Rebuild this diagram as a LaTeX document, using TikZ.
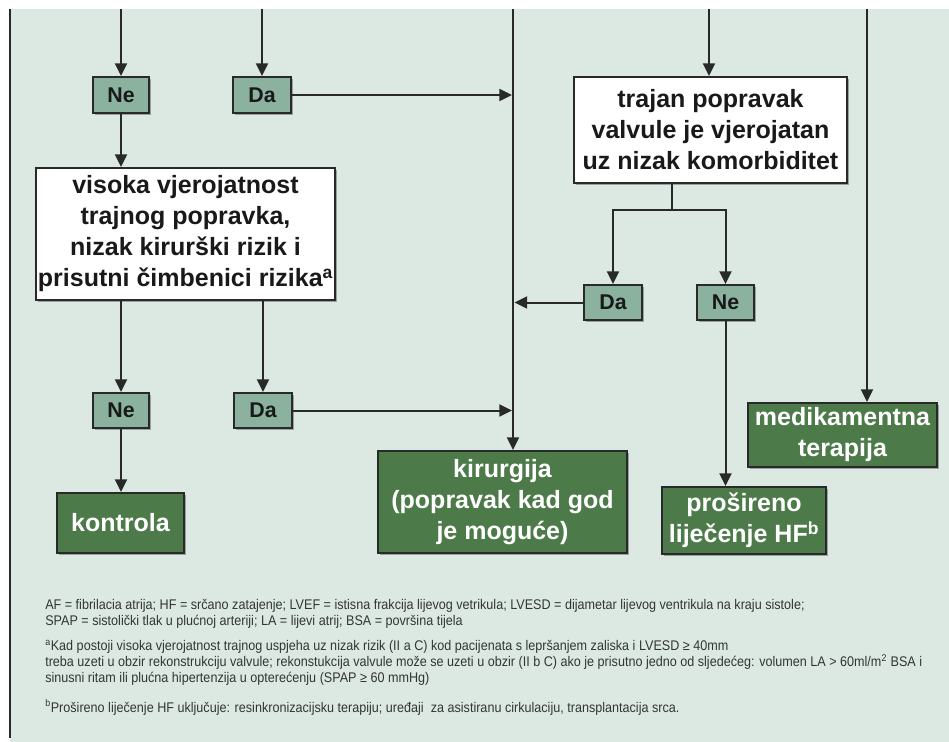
\documentclass[tikz,border=0pt]{standalone}
\usepackage{fontspec}
\setmainfont{Liberation Sans}
\newfontfamily\notefont[FakeStretch=0.9]{Liberation Sans}
\usetikzlibrary{arrows.meta,shadows}
\definecolor{bgc}{RGB}{220,233,226}
\definecolor{sgreen}{RGB}{139,178,158}
\definecolor{dgreen}{RGB}{76,122,72}
\definecolor{linec}{RGB}{40,42,42}
\definecolor{notec}{RGB}{50,53,53}
\begin{document}
\begin{tikzpicture}[x=0.75pt,y=-0.75pt,
  conn/.style={draw=linec, line width=1.5pt},
  arr/.style={conn, -{Triangle[length=9.5pt,width=9pt]}},
  base/.style={draw=linec, line width=1.5pt, inner sep=0pt, align=center,
    font=\bfseries\fontsize{18.75}{23.25}\selectfont,
    drop shadow={shadow xshift=1.3pt, shadow yshift=-1.3pt, opacity=0.3, fill=black}},
  qbox/.style={base, fill=white, text=black!90},
  gbox/.style={base, fill=dgreen, text=white},
  yn/.style={base, fill=sgreen, text=black!90, font=\bfseries\fontsize{16}{18}\selectfont,
    minimum width=42pt, minimum height=27pt},
  note/.style={anchor=base west, inner sep=0pt, text=notec, font=\notefont\fontsize{10.5}{12}\selectfont}
]
\useasboundingbox (0,0) rectangle (949,742);
\fill[white] (0,0) rectangle (949,742);
\fill[bgc] (10,9) rectangle (949,742);
\draw[linec, line width=1.5pt] (10,9) -- (10,738);

% nodes
\node[yn] (ne1) at (121,95) {Ne};
\node[yn, minimum width=43.5pt] (da1) at (262,95) {Da};
\node[qbox, minimum width=224.25pt, minimum height=99pt] (q1) at (185.5,234)
  {visoka vjerojatnost\\trajnog popravka,\\nizak kirurški rizik i\\prisutni čimbenici rizika\textsuperscript{a}};
\node[qbox, minimum width=204.75pt, minimum height=79.5pt] (q2) at (710.5,130)
  {trajan popravak\\valvule je vjerojatan\\uz nizak komorbiditet};
\node[yn, minimum width=43.5pt, minimum height=26.25pt] (da3) at (613,302.5) {Da};
\node[yn, minimum width=42.75pt, minimum height=26.25pt] (ne3) at (725.5,302.5) {Ne};
\node[yn, minimum height=26.25pt] (ne2) at (121,410.5) {Ne};
\node[yn, minimum width=43.5pt, minimum height=26.25pt] (da2) at (263,410.5) {Da};
\node[gbox, minimum width=95.25pt, minimum height=45pt] (kon) at (120.5,523) {kontrola};
\node[gbox, minimum width=186.75pt, minimum height=76.5pt] (kir) at (502.5,502)
  {kirurgija\\(popravak kad god\\je moguće)};
\node[gbox, minimum width=123pt, minimum height=50.25pt] (pro) at (744,520.5)
  {prošireno\\liječenje HF\textsuperscript{b}};
\node[gbox, minimum width=141.75pt, minimum height=48pt] (med) at (842.5,435)
  {medikamentna\\terapija};

% coordinates
\coordinate (t1) at (121,9);
\coordinate (t2) at (262,9);
\coordinate (t3) at (513,9);
\coordinate (t4) at (709,9);
\coordinate (t5) at (867,9);
\coordinate (v1) at (512,95);
\coordinate (v2) at (512,410.5);
\coordinate (v3) at (514.5,302.5);
\coordinate (br) at (672,210);

% connectors
\draw[arr] (t1) -- (ne1);
\draw[arr] (t2) -- (da1);
\draw[arr] (da1) -- (v1);
\draw[arr] (t3) -- (t3 |- kir.north);
\draw[arr] (t4) -- (t4 |- q2.north);
\draw[arr] (t5) -- (t5 |- med.north);
\draw[arr] (ne1) -- (ne1 |- q1.north);
\draw[arr] (ne2 |- q1.south) -- (ne2);
\draw[arr] (da2 |- q1.south) -- (da2);
\draw[arr] (da2) -- (v2);
\draw[arr] (ne2) -- (ne2 |- kon.north);
\draw[conn] (br |- q2.south) -- (br);
\draw[arr] (br) -| (da3);
\draw[arr] (br) -| (ne3);
\draw[arr] (da3) -- (v3);
\draw[arr] (ne3) -- (ne3 |- pro.north);

% footnotes
\node[note] (f1) at (45,609.5) {AF = fibrilacia atrija; HF = srčano zatajenje; LVEF = istisna frakcija lijevog vetrikula; LVESD = dijametar lijevog ventrikula na kraju sistole;};
\node[note] (f2) at (45,625.5) {SPAP = sistolički tlak u plućnoj arteriji; LA = lijevi atrij; BSA = površina tijela};
\node[note] (f3) at (45,650.5) {\textsuperscript{a}Kad postoji visoka vjerojatnost trajnog uspjeha uz nizak rizik (II a C) kod pacijenata s lepršanjem zaliska i LVESD ≥ 40mm};
\node[note] (f4) at (45,666.5) {treba uzeti u obzir rekonstrukciju valvule; rekonstukcija valvule može se uzeti u obzir (II b C) ako je prisutno jedno od sljedećeg: volumen LA > 60ml/m\textsuperscript{2} BSA i};
\node[note] (f5) at (45,682.5) {sinusni ritam ili plućna hipertenzija u opterećenju (SPAP ≥ 60 mmHg)};
\node[note] (f6) at (45,712) {\textsuperscript{b}Prošireno liječenje HF uključuje: resinkronizacijsku terapiju; uređaji\ \ za asistiranu cirkulaciju, transplantacija srca.};
\end{tikzpicture}
\end{document}
